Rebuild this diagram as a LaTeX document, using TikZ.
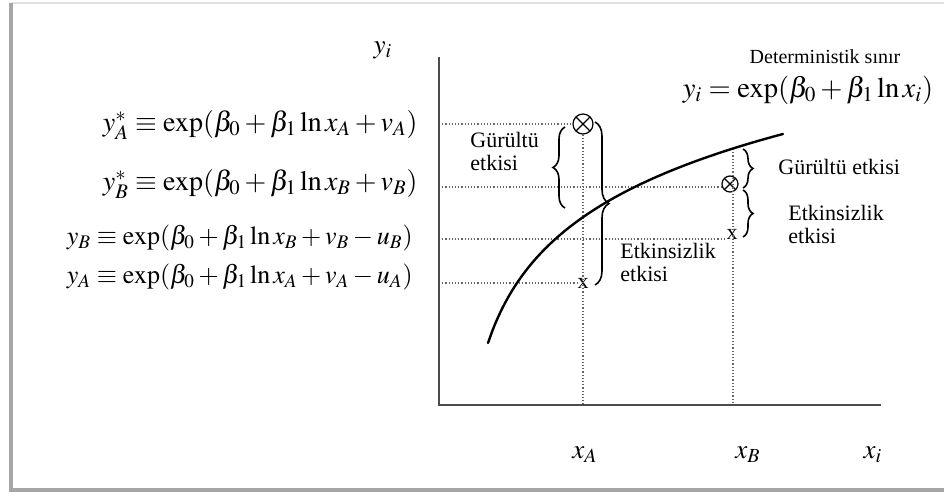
\documentclass[tikz,border=0pt]{standalone}
\usepackage{mathptmx}
\usepackage{fontspec}
\setmainfont{Liberation Serif}
\usetikzlibrary{decorations.pathreplacing,positioning}

\begin{document}
\begin{tikzpicture}[
    x=0.5pt, y=-0.5pt,
    axis/.style={draw=black!70, line width=0.9pt},
    guide/.style={densely dotted, draw=black!60, line width=0.6pt},
    frontier/.style={line width=1.2pt, line cap=round},
    eqlab/.style={font=\fontsize{13.5}{16}\selectfont, inner sep=0pt},
    note/.style={font=\fontsize{11}{11.5}\selectfont, align=left, inner sep=0pt, anchor=west},
    obs/.style={draw, circle, line width=0.6pt, inner sep=0pt, minimum size=#1,
        path picture={\draw[line width=0.6pt]
            (path picture bounding box.north west) -- (path picture bounding box.south east)
            (path picture bounding box.north east) -- (path picture bounding box.south west);}},
    obs/.default=10pt,
    ineff/.style={font=\fontsize{11}{12}\selectfont, inner sep=0pt},
    effect/.style={decorate, decoration={brace, amplitude=#1}, line width=0.8pt},
    effect/.default=6pt
]
\useasboundingbox (0,0) rectangle (944,498);
\draw[black!12, line width=1pt] (11,3) -- (944,3);
\draw[black!35, line width=1.6pt] (11,3) -- (11,490) -- (944,490);

\coordinate (O) at (439,405);
\coordinate (ytop) at (439,57);
\coordinate (xend) at (881,405);
\coordinate (fB) at (733,149);

\node[obs=10pt] (obsA) at (583,124) {};
\node[obs=8pt] (obsB) at (730,184) {};
\node[ineff] (xA) at (583,283) {x};
\node[ineff] (xB) at (732,234) {x};

\draw[guide] (ytop |- obsA) -- (obsA.west);
\draw[guide] (O |- 0,187) -- (obsB.west |- 0,187);
\draw[guide] (O |- 0,239) -- (xB.west |- 0,239);
\draw[guide] (O |- xA) -- (xA.west);
\draw[guide] (obsA.south) -- (obsA |- O);
\draw[guide] (fB) -- (fB |- O);

\draw[axis] (ytop) -- (O) -- (xend);

\draw[frontier] plot[domain=488:783, samples=60, smooth]
    (\x, {405 - (-229.6 + 86.6*ln(\x-459))});

\draw[effect] (565,208) -- (565,127);
\draw[effect=7pt] (595,122) -- (595,285);
\draw[effect=5pt] (743,149) -- (743,188);
\draw[effect=5pt] (743,190) -- (743,237);

\node[eqlab, anchor=east, font=\fontsize{14}{16}\selectfont] (yAs) at (418,125) {$y_A^{*} \equiv \exp(\beta_0 + \beta_1 \ln x_A + v_A)$};
\node[eqlab, anchor=east, font=\fontsize{14}{16}\selectfont] (yBs) at (418,184) {$y_B^{*} \equiv \exp(\beta_0 + \beta_1 \ln x_B + v_B)$};
\node[eqlab, anchor=east, font=\fontsize{13}{16}\selectfont] (yB) at (413,238) {$y_B \equiv \exp(\beta_0 + \beta_1 \ln x_B + v_B - u_B)$};
\node[eqlab, anchor=east, font=\fontsize{13}{16}\selectfont] (yA) at (413,277) {$y_A \equiv \exp(\beta_0 + \beta_1 \ln x_A + v_A - u_A)$};

\node[eqlab] (ylab) at (383,50) {$y_i$};
\node[eqlab] (xAlab) at (585,455) {$x_A$};
\node[eqlab] (xBlab) at (748,455) {$x_B$};
\node[eqlab] (xilab) at (873,455) {$x_i$};

\node[font=\fontsize{10}{12}\selectfont, inner sep=0pt] (det) at (825,57) {Deterministik sınır};
\node[eqlab, font=\fontsize{14.3}{16}\selectfont] (detEq) at (808,90) {$y_i = \exp(\beta_0 + \beta_1 \ln x_i)$};

\node[note] (noiseA) at (470,151) {Gürültü\\etkisi};
\node[note] (noiseB) at (778,167) {Gürültü etkisi};
\node[note] (ineffA) at (620,262) {Etkinsizlik\\etkisi};
\node[note] (ineffB) at (788,224) {Etkinsizlik\\etkisi};
\end{tikzpicture}
\end{document}
